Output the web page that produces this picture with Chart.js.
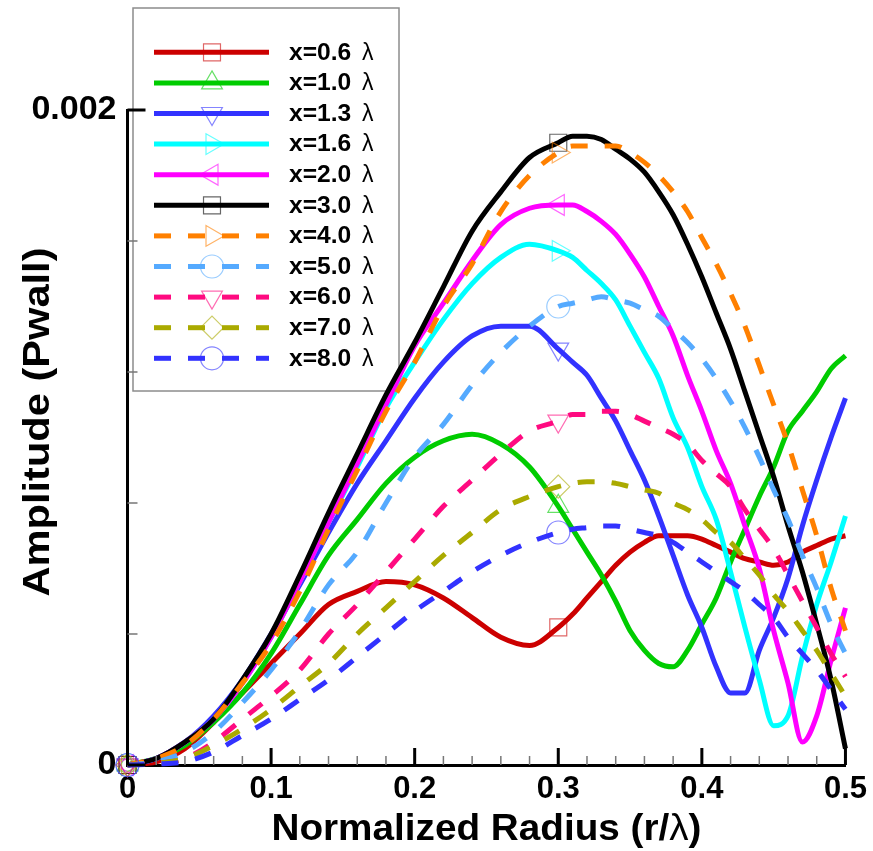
<!DOCTYPE html>
<html lang="en">
<head>
<meta charset="UTF-8" />
<title>Amplitude vs Normalized Radius</title>
<script src="https://cdn.jsdelivr.net/npm/chart.js"></script>
<style>
  html, body { margin: 0; padding: 0; background: #fff; }
  #wrap { width: 873px; height: 851px; position: relative; }
</style>
</head>
<body>
<div id="wrap"><canvas id="chart"></canvas></div>
<script>
// radial stations r/lambda (finer past 0.3 where the curves dip)
const radius = [0, 0.02, 0.04, 0.06, 0.08, 0.10, 0.12, 0.14, 0.16, 0.18, 0.20, 0.22, 0.24, 0.26, 0.28, 0.30,
  0.31, 0.32, 0.33, 0.34, 0.35, 0.36, 0.37, 0.38, 0.39, 0.40, 0.41, 0.42, 0.43, 0.44, 0.45, 0.46, 0.47, 0.48, 0.49, 0.50];

// wall pressure amplitude, one array per axial station
const ampX06 = [0, 0.00001, 0.00005, 0.00013, 0.00022, 0.00031, 0.0004, 0.00049, 0.00053, 0.00056, 0.00055, 0.00051, 0.00045, 0.00039, 0.000365, 0.00042,
  0.00046, 0.00051, 0.00056, 0.00061, 0.00065, 0.00068, 0.0007, 0.0007, 0.0007, 0.00069, 0.00067, 0.00065, 0.00063, 0.00062, 0.00061, 0.00062, 0.00065, 0.00067, 0.00069, 0.0007];
const ampX10 = [0, 0.00002, 0.00006, 0.00013, 0.00022, 0.00034, 0.00049, 0.00064, 0.00075, 0.00086, 0.00094, 0.00099, 0.00101, 0.00098, 0.00091, 0.00079,
  0.00072, 0.00065, 0.00058, 0.0005, 0.00041, 0.00035, 0.00031, 0.0003, 0.00035, 0.00043, 0.00051, 0.00062, 0.00072, 0.00082, 0.00091, 0.00102, 0.00108, 0.00114, 0.00121, 0.00125];
const ampX13 = [0, 0.00002, 0.00007, 0.00015, 0.00026, 0.0004, 0.00055, 0.00071, 0.00086, 0.00099, 0.00112, 0.00123, 0.00131, 0.00134, 0.00134, 0.00127,
  0.00123, 0.00119, 0.00112, 0.00105, 0.00096, 0.00087, 0.00076, 0.00064, 0.00052, 0.00042, 0.0003, 0.00022, 0.00022, 0.00035, 0.00045, 0.00057, 0.00073, 0.00087, 0.001, 0.00112];
const ampX16 = [0, 0.00002, 0.00007, 0.00014, 0.00025, 0.00039, 0.00056, 0.00074, 0.00091, 0.00109, 0.00123, 0.00136, 0.00147, 0.00155, 0.00159, 0.00157,
  0.00155, 0.00151, 0.00147, 0.00142, 0.00134, 0.00126, 0.00118, 0.00106, 0.00097, 0.00085, 0.00075, 0.00059, 0.00042, 0.00026, 0.00012, 0.00015, 0.00033, 0.00049, 0.00062, 0.00076];
const ampX20 = [0, 0.00002, 0.00007, 0.00014, 0.00025, 0.00039, 0.00056, 0.00074, 0.00092, 0.0011, 0.00128, 0.00141, 0.00154, 0.00165, 0.0017, 0.00171,
  0.00171, 0.00169, 0.00166, 0.00162, 0.00156, 0.00149, 0.0014, 0.00131, 0.00119, 0.00108, 0.00096, 0.00086, 0.00073, 0.0006, 0.00041, 0.00025, 0.00007, 0.00015, 0.00032, 0.00048];
const ampX30 = [0, 0.00002, 0.00007, 0.00014, 0.00026, 0.0004, 0.00058, 0.00077, 0.00095, 0.00113, 0.00129, 0.00146, 0.00163, 0.00175, 0.001855, 0.0019,
  0.00192, 0.00192, 0.00191, 0.00188, 0.00185, 0.00181, 0.00175, 0.00168, 0.00159, 0.00149, 0.00138, 0.00127, 0.00114, 0.00101, 0.00088, 0.00073, 0.00059, 0.00043, 0.00026, 0.00005];
const ampX40 = [0, 0.00002, 0.00006, 0.00014, 0.00025, 0.00037, 0.00053, 0.00072, 0.0009, 0.00108, 0.00123, 0.0014, 0.00153, 0.00169, 0.0018, 0.00187,
  0.00189, 0.00189, 0.00189, 0.00189, 0.00187, 0.00184, 0.0018, 0.00175, 0.00169, 0.00161, 0.00153, 0.00144, 0.00134, 0.00122, 0.0011, 0.00098, 0.00084, 0.0007, 0.00054, 0.00041];
const ampX50 = [0, 0.00001, 0.00004, 0.0001, 0.00019, 0.00029, 0.00041, 0.00055, 0.00065, 0.0008, 0.00094, 0.00104, 0.00116, 0.00126, 0.00134, 0.0014,
  0.00141, 0.00142, 0.00143, 0.00142, 0.00141, 0.00139, 0.00137, 0.00133, 0.00129, 0.00124, 0.00118, 0.00111, 0.00103, 0.00094, 0.00084, 0.00075, 0.00064, 0.00054, 0.00043, 0.00034];
const ampX60 = [0, 0.000005, 0.00002, 0.00007, 0.00014, 0.00021, 0.00029, 0.0004, 0.00049, 0.00059, 0.00069, 0.00079, 0.00087, 0.00095, 0.00102, 0.00105,
  0.00107, 0.00107, 0.00108, 0.00108, 0.00107, 0.00105, 0.00103, 0.00101, 0.00098, 0.00093, 0.00089, 0.00085, 0.00078, 0.00072, 0.00066, 0.00058, 0.0005, 0.00042, 0.00034, 0.00027];
const ampX70 = [0, 0.000005, 0.00002, 0.00006, 0.00011, 0.00017, 0.00024, 0.00031, 0.0004, 0.00048, 0.00056, 0.00064, 0.00071, 0.00078, 0.00082, 0.00085,
  0.00086, 0.000865, 0.000865, 0.00086, 0.00085, 0.00084, 0.00083, 0.0008, 0.00078, 0.00075, 0.00071, 0.00068, 0.00063, 0.00058, 0.00052, 0.00047, 0.00041, 0.00035, 0.00028, 0.00021];
const ampX80 = [0, 0.000003, 0.00001, 0.00004, 0.00009, 0.00014, 0.0002, 0.00026, 0.00033, 0.0004, 0.00047, 0.00053, 0.00059, 0.00064, 0.00068, 0.00071,
  0.00072, 0.000725, 0.00073, 0.00073, 0.00072, 0.00071, 0.0007, 0.00068, 0.00065, 0.00062, 0.00059, 0.00056, 0.00053, 0.00049, 0.00045, 0.00039, 0.00034, 0.00029, 0.00023, 0.00017];

const stationLabels = ['x=0.6', 'x=1.0', 'x=1.3', 'x=1.6', 'x=2.0', 'x=3.0', 'x=4.0', 'x=5.0', 'x=6.0', 'x=7.0', 'x=8.0'];
const stationValues = [ampX06, ampX10, ampX13, ampX16, ampX20, ampX30, ampX40, ampX50, ampX60, ampX70, ampX80];

const xMajorTicks = [0, 0.1, 0.2, 0.3, 0.4, 0.5];
const xMinorTicks = [0.02, 0.04, 0.06, 0.08, 0.12, 0.14, 0.16, 0.18, 0.22, 0.24, 0.26, 0.28, 0.32, 0.34, 0.36, 0.38, 0.42, 0.44, 0.46, 0.48];
const yLabelTicks = [0, 0.002];
const yMinorTicks = [0.0004, 0.0008, 0.0012, 0.0016];
const markerAt = [0, 0.3];   // symbols only every 30th sample

// line / symbol styles, same order as the stations
const seriesStyle = [
  { color: '#cc0000', dash: [], marker: 'rect', rot: 0, size: 12 },
  { color: '#00cc00', dash: [], marker: 'triangle', rot: 0, size: 12 },
  { color: '#3232ff', dash: [], marker: 'triangle', rot: 180, size: 12 },
  { color: '#00ffff', dash: [], marker: 'triangle', rot: 90, size: 12 },
  { color: '#ff00ff', dash: [], marker: 'triangle', rot: -90, size: 12 },
  { color: '#000000', dash: [], marker: 'rect', rot: 0, size: 12 },
  { color: '#ff8000', dash: [17, 17], marker: 'triangle', rot: 90, size: 12 },
  { color: '#55aaff', dash: [17, 17], marker: 'circle', rot: 0, size: 11.5 },
  { color: '#ff0a80', dash: [17, 17], marker: 'triangle', rot: 180, size: 12 },
  { color: '#aaaa00', dash: [17, 17], marker: 'rectRot', rot: 0, size: 11.5 },
  { color: '#3232ff', dash: [17, 17], marker: 'circle', rot: 0, size: 11.5 },
];

const FONT = '"Liberation Sans", Arial, Helvetica, sans-serif';

function fade(hex, a) {
  const n = parseInt(hex.slice(1), 16);
  return `rgba(${(n >> 16) & 255},${(n >> 8) & 255},${n & 255},${a})`;
}

const datasets = stationValues.map((vals, i) => {
  const st = seriesStyle[i];
  return {
    label: stationLabels[i] + ' \u03bb',
    data: radius.map((r, k) => ({ x: r, y: vals[k] })),
    borderColor: st.color,
    borderWidth: 5,
    borderDash: st.dash,
    borderCapStyle: 'butt',
    borderJoinStyle: 'round',
    cubicInterpolationMode: 'monotone',
    fill: false,
    clip: false,
    order: -i,
    pointStyle: st.marker,
    rotation: st.rot,
    pointBorderColor: fade(st.color, 0.6),
    pointBackgroundColor: 'rgba(0,0,0,0)',
    pointBorderWidth: 1.2,
    pointRadius: c => markerAt.includes(radius[c.dataIndex]) ? st.size : 0,
    pointHoverRadius: c => markerAt.includes(radius[c.dataIndex]) ? st.size : 0,
  };
});

// stretch text horizontally like the Tecplot font
function wideText(ctx, text, x, y, sx) {
  ctx.save();
  ctx.translate(x, y);
  ctx.scale(sx, 1);
  ctx.fillText(text, 0, 0);
  ctx.restore();
}

const legendBox = {
  id: 'legendBox',
  beforeDatasetsDraw(chart) {
    const ctx = chart.ctx;
    ctx.save();
    ctx.fillStyle = '#fff';
    ctx.fillRect(133, 8, 266, 383);
    ctx.strokeStyle = '#8c8c8c';
    ctx.lineWidth = 1.5;
    ctx.strokeRect(133, 8, 266, 383);
    chart.data.datasets.forEach((ds, i) => {
      const y = 52.3 + i * 30.6;
      ctx.strokeStyle = ds.borderColor;
      ctx.lineWidth = 5;
      ctx.lineCap = 'butt';
      ctx.setLineDash(ds.borderDash);
      ctx.beginPath();
      ctx.moveTo(154, y);
      ctx.lineTo(269, y);
      ctx.stroke();
      ctx.setLineDash([]);
      ctx.strokeStyle = ds.pointBorderColor;
      ctx.fillStyle = 'rgba(0,0,0,0)';
      ctx.lineWidth = 1.2;
      Chart.helpers.drawPoint(ctx, {
        pointStyle: ds.pointStyle, rotation: ds.rotation,
        radius: seriesStyle[i].size, borderWidth: 1.2
      }, 212, y);
      ctx.fillStyle = '#000';
      ctx.textBaseline = 'middle';
      ctx.textAlign = 'left';
      ctx.font = 'bold 23px ' + FONT;
      wideText(ctx, stationLabels[i], 289, y + 1, 1.07);
      ctx.font = '23px ' + FONT;
      ctx.fillText('\u03bb', 362, y + 1);
    });
    ctx.restore();
  }
};

const axisDecor = {
  id: 'axisDecor',
  afterDatasetsDraw(chart) {
    const { ctx, chartArea: a, scales: { x, y } } = chart;
    ctx.save();
    ctx.lineCap = 'butt';
    // inward ticks
    ctx.strokeStyle = '#777';
    ctx.lineWidth = 1.5;
    ctx.beginPath();
    xMinorTicks.forEach(v => { const p = x.getPixelForValue(v); ctx.moveTo(p, a.bottom); ctx.lineTo(p, a.bottom - 9); });
    yMinorTicks.forEach(v => { const p = y.getPixelForValue(v); ctx.moveTo(a.left, p); ctx.lineTo(a.left + 10, p); });
    ctx.stroke();
    ctx.strokeStyle = '#000';
    ctx.lineWidth = 3;
    ctx.beginPath();
    xMajorTicks.forEach(v => { const p = x.getPixelForValue(v); ctx.moveTo(p, a.bottom); ctx.lineTo(p, a.bottom - 17); });
    yLabelTicks.forEach(v => { const p = y.getPixelForValue(v); ctx.moveTo(a.left, p); ctx.lineTo(a.left + 18, p); });
    ctx.stroke();

    // axis titles
    ctx.fillStyle = '#000';
    ctx.textBaseline = 'alphabetic';
    ctx.textAlign = 'left';
    const bold = 'bold 37px ' + FONT, reg = '37px ' + FONT;
    ctx.font = bold;
    const p1 = 'Normalized Radius (r/', p3 = ')';
    const w1 = ctx.measureText(p1).width, w3 = ctx.measureText(p3).width;
    ctx.font = reg;
    const w2 = ctx.measureText('\u03bb').width;
    const sx = 430 / (w1 + w2 + w3);
    ctx.save();
    ctx.translate((a.left + a.right) / 2 - 215, 840);
    ctx.scale(sx, 1);
    ctx.font = bold; ctx.fillText(p1, 0, 0);
    ctx.font = reg; ctx.fillText('\u03bb', w1, 0);
    ctx.font = bold; ctx.fillText(p3, w1 + w2, 0);
    ctx.restore();

    ctx.save();
    ctx.translate(49, 422);
    ctx.rotate(-Math.PI / 2);
    ctx.font = bold;
    const yt = 'Amplitude (Pwall)';
    const wy = ctx.measureText(yt).width;
    ctx.scale(349 / wy, 1);
    ctx.textAlign = 'center';
    ctx.fillText(yt, 0, 0);
    ctx.restore();
    ctx.restore();
  }
};

Chart.defaults.font.family = FONT;

new Chart(document.getElementById('chart'), {
  type: 'line',
  data: { datasets },
  options: {
    responsive: true,
    maintainAspectRatio: false,
    animation: false,
    events: [],
    layout: { padding: { top: 110, right: 25, left: 0, bottom: 0 } },
    plugins: { legend: { display: false }, tooltip: { enabled: false } },
    scales: {
      x: {
        type: 'linear', min: 0, max: 0.5,
        afterBuildTicks: s => { s.ticks = xMajorTicks.map(v => ({ value: v })); },
        afterFit: s => { s.height = 86; },
        grid: { display: false, drawTicks: false, tickLength: 0 },
        border: { display: true, color: '#000', width: 3 },
        ticks: {
          color: '#000', padding: 6, maxRotation: 0, autoSkip: false,
          font: { size: 31, weight: 'bold' },
          callback: v => v === 0 ? '0' : v.toFixed(1)
        }
      },
      y: {
        type: 'linear', min: 0, max: 0.002,
        afterBuildTicks: s => { s.ticks = yLabelTicks.map(v => ({ value: v })); },
        afterFit: s => { s.width = 127.5; },
        grid: { display: false, drawTicks: false, tickLength: 0 },
        border: { display: true, color: '#000', width: 3 },
        ticks: {
          color: '#000', padding: 11,
          font: { size: 34, weight: 'bold' },
          callback: v => v === 0 ? '0' : String(v)
        }
      }
    }
  },
  plugins: [legendBox, axisDecor]
});
</script>
</body>
</html>
